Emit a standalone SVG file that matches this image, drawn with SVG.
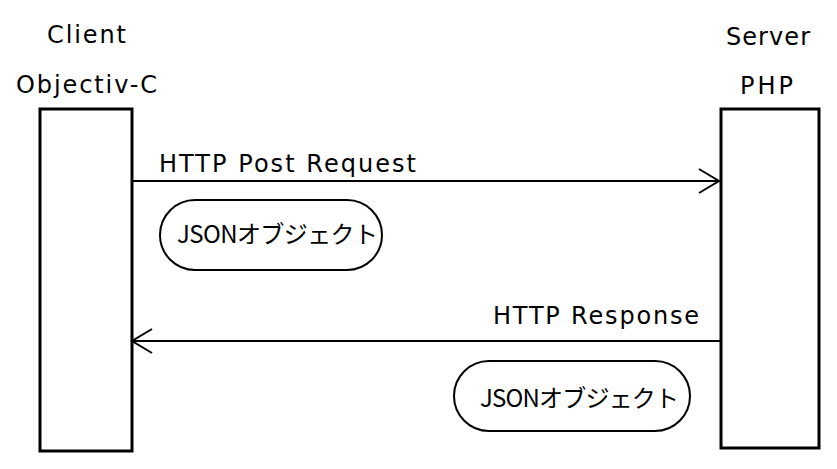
<svg xmlns="http://www.w3.org/2000/svg" width="837" height="469" viewBox="0 0 837 469">
<style>
text{font-family:"Noto Sans CJK JP","Noto Sans",sans-serif;font-size:24px;fill:#000}
text.lat{font-family:"DejaVu Sans","Noto Sans CJK JP",sans-serif;font-size:24px}
.box{fill:#fff;stroke:#000;stroke-width:3}
.pill{fill:#fff;stroke:#000;stroke-width:2}
.conn{stroke:#000;stroke-width:2;fill:none}
</style>
<defs>
<marker id="open" markerWidth="24" markerHeight="28" refX="21" refY="13" orient="auto" markerUnits="userSpaceOnUse">
<path d="M1,1 L21,13 L1,25" fill="none" stroke="#000" stroke-width="2"/>
</marker>
</defs>
<rect width="837" height="469" fill="#fff"/>
<g id="client">
<text class="lat" x="47" y="43" textLength="79" lengthAdjust="spacing">Client</text>
<text class="lat" x="16" y="93" textLength="141" lengthAdjust="spacing">Objectiv-C</text>
<rect class="box" x="40" y="109" width="92" height="342"/>
</g>
<g id="server">
<text class="lat" x="726" y="45" textLength="84" lengthAdjust="spacing">Server</text>
<text class="lat" x="740" y="94" textLength="53" lengthAdjust="spacing">PHP</text>
<rect class="box" x="721" y="109" width="98" height="339"/>
</g>
<g id="request-payload">
<rect class="pill" x="160" y="200" width="222" height="70" rx="35"/>
<text x="177" y="243" textLength="201" lengthAdjust="spacing">JSONオブジェクト</text>
</g>
<g id="response-payload">
<rect class="pill" x="454" y="361" width="236" height="70" rx="35"/>
<text x="480" y="407" textLength="199" lengthAdjust="spacing">JSONオブジェクト</text>
</g>
<g id="connectors">
<line class="conn" x1="133" y1="181" x2="719" y2="181" marker-end="url(#open)"/>
<text class="lat" x="159" y="172" textLength="257" lengthAdjust="spacing">HTTP Post Request</text>
<line class="conn" x1="721" y1="341" x2="132" y2="341" marker-end="url(#open)"/>
<text class="lat" x="493" y="324" textLength="206" lengthAdjust="spacing">HTTP Response</text>
</g>
</svg>
